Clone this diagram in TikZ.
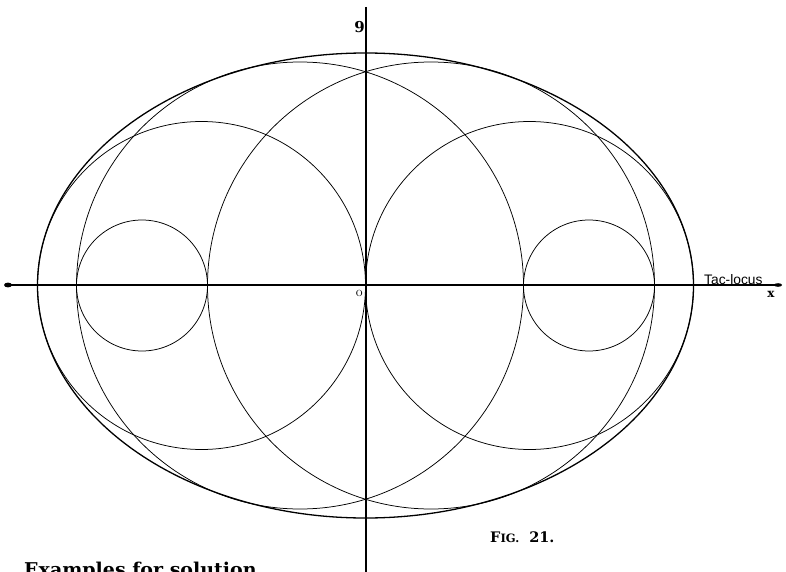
\documentclass[tikz,border=0pt]{standalone}
\usepackage{fontspec}
\newfontfamily\labelsans{Liberation Sans}
\newfontfamily\heavyserif{DejaVu Serif}
\begin{document}
\begin{tikzpicture}[x=1pt,y=-1pt,
  thincurve/.style={line width=0.75pt},
  thickcurve/.style={line width=1.3pt},
  axisline/.style={line width=1.1pt},
  lbl/.style={inner sep=0pt}]
\useasboundingbox (0,0) rectangle (786,572);
\clip (0,0) rectangle (786,572);
\coordinate (O) at (365.5,285.5);
% outer ellipse (envelope)
\draw[thickcurve] (O) ellipse [x radius=328, y radius=232.5];
% medium circles through the origin
\draw[thincurve] ([xshift=-164pt]O) circle [radius=164];
\draw[thincurve] ([xshift=164pt]O) circle [radius=164];
% large circles
\draw[thincurve] ([xshift=-65.5pt]O) circle [radius=223.5];
\draw[thincurve] ([xshift=65.5pt]O) circle [radius=223.5];
% small circles
\draw[thincurve] ([xshift=-223.5pt]O) circle [radius=65.5];
\draw[thincurve] ([xshift=223.5pt]O) circle [radius=65.5];
% axes
\coordinate (xl) at (8,285);
\coordinate (xr) at (778,285);
\coordinate (yt) at (366,7);
\coordinate (yb) at (366,572);
\draw[axisline] (xl) -- (xr);
\draw[axisline] (yt) -- (yb);
\fill (xl) ellipse [x radius=4, y radius=2.4];
\fill (xr) ellipse [x radius=4, y radius=1.8];
% labels
\node[lbl] (ylab) at (359.5,27.5) {\heavyserif\bfseries\fontsize{15}{17}\selectfont 9};
\node[lbl] (olab) at (359.3,293.3) {\fontsize{14}{15}\selectfont o};
\node[lbl,anchor=base west] (tac) at (704,284.3) {\labelsans\fontsize{13.8}{15}\selectfont Tac-locus};
\node[lbl] (xlab) at (771,294.5) {\heavyserif\bfseries\fontsize{12}{14}\selectfont x};
\node[lbl,anchor=base west] (fig) at (490,542) {\heavyserif\bfseries\fontsize{14.5}{16}\selectfont F\fontsize{11.5}{12}\selectfont IG.\hspace{10pt}\fontsize{14.5}{16}\selectfont 21.};
\node[lbl,anchor=base west] (ex) at (24,576) {\heavyserif\bfseries\fontsize{19}{22}\selectfont Examples for solution.};
\end{tikzpicture}
\end{document}
